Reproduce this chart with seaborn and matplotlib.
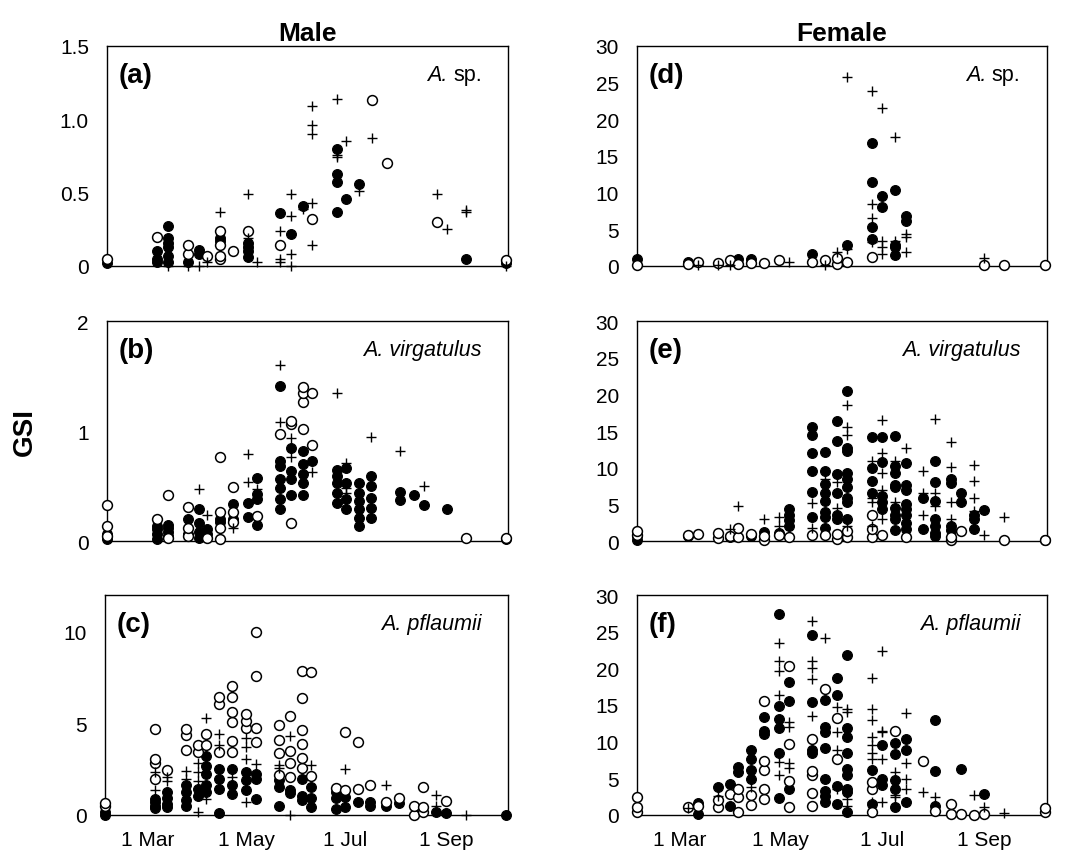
import matplotlib
matplotlib.use("Agg")            # no display, write straight to file
import matplotlib.pyplot as plt
from matplotlib.transforms import ScaledTranslation
import pandas as pd
import seaborn as sns

# ---------------- data: day of year -> GSI values ----------------
# three kinds of marker per panel: filled circle, open circle, plus

# (a) Male, A. sp.
a_filled = {34: [0.02], 65: [0.03, 0.05, 0.10], 72: [0.03, 0.07, 0.13, 0.16, 0.19, 0.27],
            84: [0.03], 91: [0.08, 0.11], 104: [0.17, 0.19], 121: [0.06, 0.10, 0.13, 0.16],
            141: [0.36], 148: [0.22], 155: [0.41], 176: [0.37, 0.57, 0.63, 0.80],
            182: [0.46], 190: [0.56], 256: [0.05], 281: [0.02]}
a_open = {34: [0.05], 65: [0.20], 84: [0.08, 0.14], 96: [0.07], 104: [0.05, 0.07, 0.14, 0.24],
          112: [0.10], 121: [0.24], 141: [0.14], 161: [0.32], 198: [1.13], 207: [0.70],
          238: [0.30], 281: [0.04]}
a_plus = {72: [0.0, 0.02], 84: [0.0], 91: [0.0], 96: [0.03], 104: [0.37], 121: [0.19, 0.49],
          127: [0.03], 141: [0.03, 0.05, 0.24], 148: [0.0, 0.08, 0.34, 0.49], 155: [0.39],
          161: [0.14, 0.43, 0.90, 0.96, 1.09], 176: [0.74, 0.76, 1.14], 182: [0.85],
          190: [0.51], 198: [0.87], 238: [0.49], 244: [0.25], 256: [0.37, 0.38], 281: [0.0]}

# (b) Male, A. virgatulus
b_filled = {34: [0.02, 0.06], 65: [0.02, 0.06, 0.11, 0.14], 72: [0.05, 0.08, 0.12, 0.15],
            84: [0.06, 0.20], 91: [0.03, 0.08, 0.16, 0.29], 96: [0.06, 0.11], 104: [0.17, 0.20],
            112: [0.20, 0.34], 121: [0.22, 0.35], 127: [0.15, 0.38, 0.43, 0.57],
            141: [0.29, 0.38, 0.48, 0.56, 0.68, 0.73, 1.41], 148: [0.42, 0.56, 0.64, 0.85],
            155: [0.42, 0.53, 0.61, 0.70, 0.82], 161: [0.73], 176: [0.35, 0.44, 0.53, 0.59, 0.65],
            182: [0.29, 0.38, 0.53, 0.66], 190: [0.14, 0.21, 0.29, 0.36, 0.44, 0.53],
            197: [0.21, 0.30, 0.39, 0.50, 0.59], 215: [0.37, 0.45], 224: [0.42], 230: [0.33],
            244: [0.29], 281: [0.02]}
b_open = {34: [0.05, 0.14, 0.33], 65: [0.20], 72: [0.03, 0.42], 84: [0.05, 0.12, 0.31],
          96: [0.03], 104: [0.02, 0.12, 0.26, 0.76], 112: [0.17, 0.26, 0.49], 127: [0.23],
          141: [0.97], 148: [0.16, 1.06, 1.09], 155: [1.02, 1.26, 1.35, 1.40], 161: [0.87, 1.35],
          256: [0.03], 281: [0.03]}
b_plus = {91: [0.47], 96: [0.24], 112: [0.12], 121: [0.54, 0.79], 127: [0.47], 141: [1.08, 1.60],
          148: [0.76, 0.94], 161: [0.63], 176: [1.35], 182: [0.44, 0.48, 0.71], 197: [0.95],
          215: [0.82], 230: [0.50]}

# (c) Male, A. pflaumii
c_filled = {34: [0.0, 0.15], 65: [0.37, 0.51, 0.70, 0.88], 72: [0.42, 0.60, 0.92, 1.25],
            84: [0.51, 0.84, 1.25, 1.61], 91: [1.06, 1.43], 96: [1.25, 1.61, 2.25, 2.67, 3.20],
            104: [0.11, 1.43, 1.98, 2.53], 112: [1.15, 1.61, 2.53], 121: [1.34, 1.89, 2.34],
            127: [0.88, 1.98, 2.25], 141: [0.48, 1.52, 1.89], 148: [1.19, 1.37],
            155: [0.84, 1.06, 1.98], 161: [0.42, 0.92, 1.52], 176: [0.33, 0.92, 1.25],
            182: [0.42, 0.97], 190: [0.70], 197: [0.48, 0.70], 207: [0.51], 215: [0.64],
            238: [0.18], 244: [0.11], 281: [0.0]}
c_open = {34: [0.48, 0.66], 65: [1.98, 2.86, 3.08, 4.67], 72: [2.44], 84: [3.53, 4.36, 4.67],
          91: [3.44, 3.81], 96: [3.81, 4.40], 104: [3.44, 6.06, 6.41],
          112: [3.44, 4.03, 5.09, 5.64, 6.41, 7.05], 121: [4.73, 5.15, 5.49],
          127: [3.99, 4.76, 7.56, 10.0], 141: [2.16, 3.39, 4.08, 4.91], 148: [2.07, 2.86, 3.48, 5.40],
          155: [2.56, 3.11, 3.90, 4.63, 6.37, 7.84], 161: [2.12, 7.80], 176: [1.47],
          182: [1.39, 4.51], 190: [1.43, 3.96], 197: [1.61], 207: [0.73], 215: [0.92],
          224: [0.0, 0.51], 230: [0.18, 0.42, 1.52], 244: [0.79]}
c_plus = {65: [1.37, 2.34], 72: [1.83, 2.07], 84: [1.98, 2.38], 91: [0.15, 1.83, 2.34, 2.86],
          96: [0.88, 5.27], 104: [3.81, 4.40], 112: [2.07], 121: [0.70, 3.08, 3.72, 4.18],
          127: [2.80], 141: [2.56, 2.75], 148: [0.0, 4.32], 161: [2.71], 182: [2.49],
          207: [1.61], 238: [0.51, 1.10], 256: [0.0]}

# (d) Female, A. sp.
d_filled = {34: [1.0], 65: [0.5], 95: [0.9], 103: [1.0], 140: [1.7], 161: [2.9],
            176: [3.7, 5.3, 11.5, 16.8], 182: [8.0, 9.6], 190: [1.5, 2.6, 2.9, 10.4], 197: [6.1, 6.8]}
d_open = {34: [0.2], 65: [0.3], 71: [0.6], 83: [0.45], 90: [0.85], 95: [0.3], 103: [0.4],
          111: [0.4], 120: [0.85], 140: [0.6], 148: [0.8], 155: [0.3, 1.1], 161: [0.6],
          176: [1.2], 244: [0.1], 256: [0.1], 281: [0.1]}
d_plus = {71: [0.1], 83: [0.1], 90: [0.1], 126: [0.5], 148: [0.1], 155: [1.9], 161: [2.3, 25.8],
          176: [3.3, 6.5, 8.5, 23.8], 182: [1.7, 2.6, 3.4, 21.5], 190: [3.4, 17.6],
          197: [1.9, 4.0, 4.3], 244: [1.1]}

# (e) Female, A. virgatulus
e_filled = {34: [0.2, 0.7], 65: [0.7], 90: [0.6], 103: [0.7], 111: [1.2], 120: [1.1],
            126: [2.1, 2.9, 3.6, 4.3], 140: [3.3, 6.7, 9.5, 12.0, 14.5, 15.5],
            148: [1.8, 3.3, 3.9, 5.5, 6.6, 7.8, 9.6, 12.1], 155: [3.0, 3.6, 6.6, 9.1, 13.6, 16.4],
            161: [3.0, 5.3, 5.9, 7.3, 8.4, 9.3, 12.3, 12.7, 20.5], 176: [6.6, 8.2, 10.0, 14.2],
            182: [4.3, 5.3, 6.1, 10.8, 14.2], 190: [1.5, 3.0, 3.6, 4.5, 7.3, 7.7, 9.3, 10.2, 14.3],
            197: [1.6, 2.5, 3.6, 4.3, 5.0, 7.0, 7.7, 10.6], 207: [1.7, 5.8],
            214: [0.7, 1.1, 2.0, 3.0, 5.5, 8.0, 10.9], 224: [1.5, 2.0, 7.9, 8.4], 230: [5.3, 6.6],
            238: [1.7, 3.0, 3.6], 244: [4.2], 281: [0.1]}
e_open = {34: [0.8, 1.4], 65: [0.8], 71: [0.9], 83: [0.4, 1.1], 90: [0.7], 95: [0.6, 1.8],
          103: [1.0], 111: [0.2, 0.7], 120: [0.8], 126: [0.6], 140: [0.8], 148: [0.8],
          155: [0.3, 0.9], 161: [0.6, 1.4], 176: [0.6, 1.6, 3.6], 182: [0.8], 197: [0.5],
          224: [0.1, 0.6], 230: [1.4], 256: [0.1], 281: [0.2]}
e_plus = {90: [1.7], 95: [4.8], 111: [3.0], 120: [2.1, 3.3], 140: [1.8, 5.2], 148: [8.5],
          155: [4.5, 8.0], 161: [2.0, 14.4, 15.5, 18.6], 176: [2.1, 5.3, 5.9, 10.9],
          182: [3.0, 7.0, 9.3, 12.0, 16.5], 190: [5.3, 10.9], 197: [12.7], 207: [3.5, 6.6, 9.5],
          214: [4.8, 6.6, 16.7], 224: [3.0, 5.3, 10.1, 13.5], 238: [4.1, 5.9, 8.2, 10.3],
          244: [0.8], 256: [3.3]}

# (f) Female, A. pflaumii
f_filled = {71: [0.14, 1.7], 83: [3.8], 90: [1.27, 4.2], 95: [5.8, 6.6], 103: [4.9, 6.2, 7.7, 8.8],
            111: [11.0, 11.5, 13.4], 120: [2.3, 8.5, 11.8, 13.1, 14.9, 27.4], 126: [3.5, 15.6, 18.1],
            140: [8.5, 8.9, 15.4, 24.5], 148: [1.8, 2.6, 3.3, 4.9, 9.2, 11.3, 12.0, 15.7],
            155: [1.5, 3.9, 16.4, 18.7], 161: [0.45, 3.1, 3.6, 5.5, 6.3, 8.4, 10.6, 11.8, 21.8],
            176: [1.5, 6.2], 182: [4.1, 4.9, 9.5], 190: [1.05, 3.6, 4.8, 8.3, 9.8],
            197: [1.8, 8.9, 10.4], 214: [1.27, 6.0, 13.0], 230: [6.3], 244: [2.8]}
f_open = {34: [0.45, 1.05, 2.5], 65: [1.05], 71: [1.27], 83: [1.05, 2.0], 90: [2.86],
          95: [0.45, 2.4, 3.5], 103: [1.36, 2.7], 111: [2.2, 3.5, 6.2, 7.4, 15.5],
          126: [1.05, 4.7, 9.7, 20.3], 140: [1.27, 3.0, 5.4, 6.0, 10.4], 148: [17.2],
          155: [7.7, 13.2], 176: [0.45, 3.6, 4.5], 190: [11.5], 207: [7.3], 214: [0.6],
          224: [0.14, 1.5], 230: [0.14], 238: [0.0], 244: [0.14], 281: [0.36, 0.9]}
f_plus = {65: [1.0], 83: [2.6], 103: [3.8], 120: [5.5, 7.2, 16.4, 19.7, 21.0, 23.5],
          126: [6.4, 7.1, 12.0, 12.7], 140: [13.5, 18.5, 20.1, 21.0, 26.5], 148: [24.1],
          155: [3.5, 8.9, 11.3, 14.7], 161: [1.27, 2.2, 14.0, 14.5],
          176: [1.8, 7.6, 8.5, 9.5, 10.6, 12.9, 14.4, 18.7], 182: [1.8, 7.6, 11.3, 11.5, 22.4],
          190: [2.4, 2.7, 5.8], 197: [3.5, 4.9, 7.1, 13.9], 207: [3.1], 214: [2.5], 238: [2.7],
          244: [1.05], 256: [0.27]}

month_ticks = [60, 91, 121, 152, 182, 213, 244, 274]
month_labels = ["1 Mar", "", "1 May", "", "1 Jul", "", "1 Sep", ""]

# ---------------- long table ----------------
series = {"a": (a_filled, a_open, a_plus), "b": (b_filled, b_open, b_plus),
          "c": (c_filled, c_open, c_plus), "d": (d_filled, d_open, d_plus),
          "e": (e_filled, e_open, e_plus), "f": (f_filled, f_open, f_plus)}
rows = []
for key, groups in series.items():
    for kind, d in zip(["filled", "open", "plus"], groups):
        for day, vals in d.items():
            for v in vals:
                rows.append((key, kind, day, v))
df = pd.DataFrame(rows, columns=["panel", "kind", "day", "gsi"])

# ---------------- figure ----------------
sns.set_theme(style="white")
plt.rcParams["font.family"] = ["Liberation Sans", "DejaVu Sans"]
plt.rcParams.update({"text.color": "black", "axes.labelcolor": "black",
                     "xtick.color": "black", "ytick.color": "black"})

W, H = 1067, 853
fig = plt.figure(figsize=(W / 100, H / 100), dpi=100)

def rect(l, t, r, b):
    return [l / W, 1 - b / H, (r - l) / W, (b - t) / H]

layout = {  # pixel box, ylim, yticks, ytick labels, species
    "a": (rect(107, 47, 508, 267), 1.5, [0, 0.5, 1.0, 1.5], ["0", "0.5", "1.0", "1.5"], "sp"),
    "b": (rect(107, 322, 508, 542), 2, [0, 1, 2], ["0", "1", "2"], "A. virgatulus"),
    "c": (rect(105, 596, 508, 816), 12, [0, 5, 10], ["0", "5", "10"], "A. pflaumii"),
    "d": (rect(637, 47, 1047, 267), 30, list(range(0, 31, 5)), None, "sp"),
    "e": (rect(637, 322, 1047, 542), 30, list(range(0, 31, 5)), None, "A. virgatulus"),
    "f": (rect(637, 596, 1047, 816), 30, list(range(0, 31, 5)), None, "A. pflaumii"),
}
styles = {
    "filled": dict(marker="o", s=50, color="black", edgecolor="black", linewidth=0.8),
    "open": dict(marker="o", s=50, color="white", edgecolor="black", linewidth=1.1),
    "plus": dict(marker="+", s=62, color="black", linewidth=1.0),
}
shift_down = ScaledTranslation(0, -3 / 100, fig.dpi_scale_trans)

axes = {}
for key, (box, ymax, yt, ytl, species) in layout.items():
    ax = fig.add_axes(box)
    axes[key] = ax
    sub = df[df["panel"] == key]
    for kind in ["filled", "open", "plus"]:
        sns.scatterplot(data=sub[sub["kind"] == kind], x="day", y="gsi", ax=ax,
                        clip_on=False, zorder=3, legend=False, **styles[kind])
    ax.set_xlim(34, 282)
    ax.set_ylim(0, ymax)
    ax.set_yticks(yt)
    ax.set_yticklabels(ytl if ytl else [str(v) for v in yt], fontsize=15)
    for lab in ax.get_yticklabels():
        lab.set_transform(lab.get_transform() + shift_down)
    ax.set_xticks(month_ticks)
    if key in ("c", "f"):
        ax.set_xticklabels(month_labels, fontsize=15)
    else:
        ax.set_xticklabels([])
    ax.tick_params(axis="x", direction="out", length=5, width=1, pad=6, colors="black")
    ax.tick_params(axis="y", direction="in", length=5, width=1, pad=13, colors="black")
    ax.set_xlabel(""); ax.set_ylabel("")
    for sp in ax.spines.values():
        sp.set_color("black"); sp.set_linewidth(1.0); sp.set_visible(True)
    ax.text(0.028, 0.87, f"({key})", transform=ax.transAxes, fontsize=20,
            fontweight="bold", va="center", ha="left")
    if species == "sp":
        t = ax.text(0.935, 0.87, "sp.", transform=ax.transAxes, fontsize=15.5,
                    va="center", ha="right")
        ax.annotate("A.", xy=(0, 0.5), xycoords=t, xytext=(-4, 0), textcoords="offset points",
                    fontsize=15.5, style="italic", va="center", ha="right")
    else:
        ax.text(0.935, 0.87, species, transform=ax.transAxes, fontsize=15.5,
                style="italic", va="center", ha="right")

axes["a"].set_title("Male", fontsize=19, fontweight="bold", pad=4)
axes["d"].set_title("Female", fontsize=19, fontweight="bold", pad=4)
fig.text(25 / W, 1 - 432 / H, "GSI", rotation=90, fontsize=20, fontweight="bold",
         ha="center", va="center")

fig.savefig("out.png", dpi=100)
